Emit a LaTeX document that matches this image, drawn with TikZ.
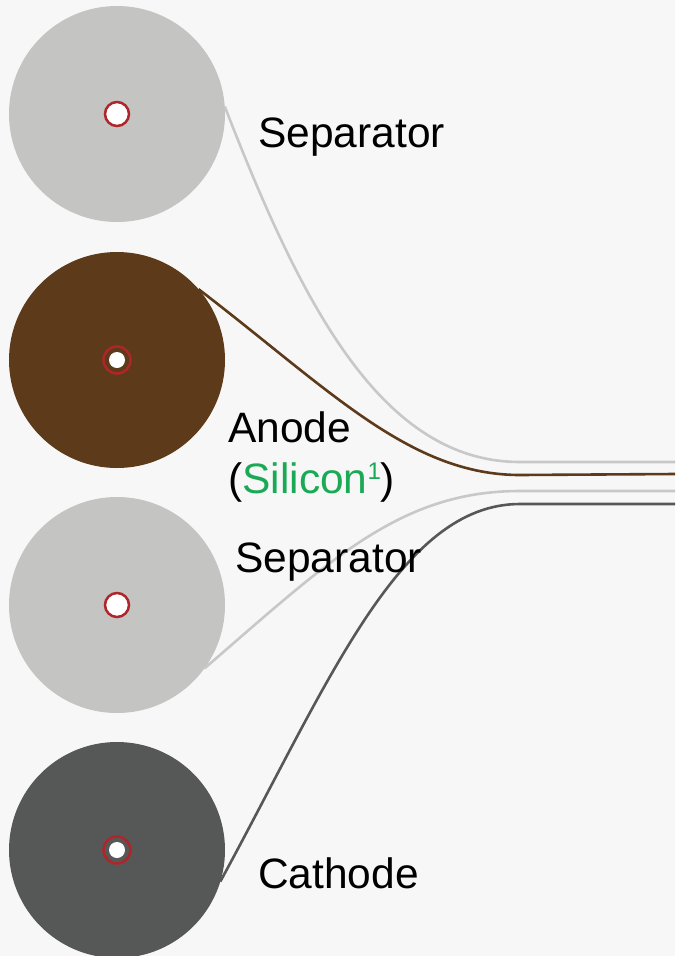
\documentclass[tikz,border=0pt]{standalone}
\usepackage{fontspec}
\setmainfont{Liberation Sans}
\definecolor{bgc}{HTML}{F7F7F7}
\definecolor{sepc}{HTML}{C4C4C2}
\definecolor{sepl}{HTML}{C8C8C8}
\definecolor{anodec}{HTML}{5C3A1A}
\definecolor{cathc}{HTML}{565857}
\definecolor{redc}{HTML}{B0252A}
\definecolor{silc}{HTML}{1AAA55}
\begin{document}
\begin{tikzpicture}[x=1pt,y=-1pt,
  roll/.style={circle,minimum size=216pt,inner sep=0pt,outer sep=0pt},
  hubA/.style={circle,fill=white,draw=redc,line width=2.5pt,minimum size=24pt,inner sep=0pt},
  hubB/.style={circle,draw=redc,line width=2.5pt,minimum size=27pt,inner sep=0pt},
  dot/.style={circle,fill=white,minimum size=16pt,inner sep=0pt},
  lbl/.style={anchor=base west,inner sep=0pt,font=\fontsize{42.5}{51}\selectfont},
  web/.style={line width=2.6pt}]
\fill[bgc] (0,0) rectangle (675,956);
\useasboundingbox (0,0) rectangle (675,956);
% rolls
\node[roll,fill=sepc] (c1) at (117,114) {};
\node[roll,fill=anodec] (c2) at (117,360) {};
\node[roll,fill=sepc] (c3) at (117,605) {};
\node[roll,fill=cathc] (c4) at (117,850) {};
% hubs
\node[hubA] (h1) at (117,114) {};
\node[hubB] (h2) at (117,360) {};
\node[dot] (d2) at (117,360) {};
\node[hubA] (h3) at (117,605) {};
\node[hubB] (h4) at (117,850) {};
\node[dot] (d4) at (117,850) {};
% free ends
\coordinate (e1) at (675,462);
\coordinate (e2) at (675,474);
\coordinate (e3) at (675,491);
\coordinate (e4) at (675,504);
% webs
\draw[web,draw=sepl] (c1.4) .. controls (300,300) and (380,462) .. (520,462) -- (e1);
\draw[web,draw=anodec] (c2.41) .. controls (330,390) and (410,475) .. (520,475) -- (e2);
\draw[web,draw=sepl] (c3.-36) .. controls (330,560) and (400,491) .. (520,491) -- (e3);
\draw[web,draw=cathc] (c4.-17) .. controls (330,680) and (400,504) .. (520,504) -- (e4);
% labels
\node[lbl] (l1) at (258,147) {Separator};
\node[lbl] (l2) at (228,442) {Anode};
\node[lbl] (l3) at (228,493) {(\textcolor{silc}{Silicon\raisebox{14pt}{\fontsize{24}{24}\selectfont 1}})};
\node[lbl] (l4) at (235,572) {Separator};
\node[lbl] (l5) at (258,888) {Cathode};
\end{tikzpicture}
\end{document}
